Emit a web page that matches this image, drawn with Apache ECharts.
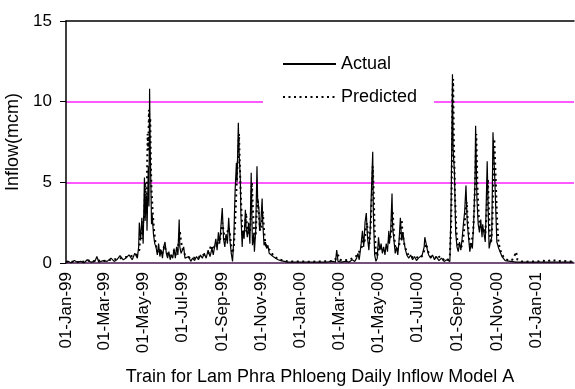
<!DOCTYPE html>
<html>
<head>
<meta charset="utf-8">
<script src="https://cdn.jsdelivr.net/npm/echarts@6/dist/echarts.min.js"></script>
<style>
  html, body { margin: 0; padding: 0; background: #ffffff; }
  #chart { width: 575px; height: 389px; }
</style>
</head>
<body>
<div id="chart"></div>
<script>
// Daily inflow (million cubic metres), Lam Phra Phloeng reservoir, training period.
// Each entry is [days since startDate, inflow].
const startDate = '1999-01-01';
const lastDay = 790;

const tickLabelDates = [
  '1999-01-01', '1999-03-01', '1999-05-01', '1999-07-01', '1999-09-01', '1999-11-01',
  '2000-01-01', '2000-03-01', '2000-05-01', '2000-07-01', '2000-09-01', '2000-11-01',
  '2001-01-01'
];
const monthNames = ['Jan','Feb','Mar','Apr','May','Jun','Jul','Aug','Sep','Oct','Nov','Dec'];

const actualFlow = [
  [0,0.05],[4,0.1],[8,0.0],[13,0.15],[18,0.05],[23,0.1],[28,0.0],[33,0.2],[39,0.05],[45,0.1],
  [48,0.4],[51,0.05],[58,0.15],[64,0.1],[70,0.3],[75,0.1],[79,0.2],[84,0.45],[89,0.2],[93,0.3],
  [98,0.5],[103,0.2],[107,0.6],[111,0.3],[113,1.0],
  [114,2.5],[116,1.4],[118,2.8],[120,1.2],[122,5.3],[123,2.6],[125,4.2],[126,2.0],[128,6.0],
  [129,3.5],[130,10.8],[131,7.0],[132,4.8],[133,2.4],[134,3.0],[136,1.8],[138,1.2],[140,1.0],
  [142,0.5],[144,1.2],[146,0.4],[148,0.8],[150,0.3],[152,1.0],[154,1.3],[156,0.6],[158,0.3],
  [160,0.7],[162,0.2],[164,0.5],[166,0.3],[168,0.9],[170,0.3],[172,1.0],[174,0.5],[176,2.7],
  [177,1.0],[179,0.6],[181,0.5],[183,1.0],[185,0.3],
  [188,0.2],[191,0.4],[194,0.1],[197,0.3],[200,0.15],[203,0.4],[206,0.2],[209,0.5],[212,0.3],
  [215,0.6],[218,0.3],[221,0.8],[224,0.4],[227,0.9],[229,0.5],[231,1.0],
  [233,1.5],[235,0.8],[237,1.9],[239,1.2],[241,2.3],[243,3.4],[245,1.5],[247,1.0],[249,1.8],
  [251,1.2],[253,2.8],[255,1.4],[257,0.6],[259,0.1],[261,1.5],[262,3.1],
  [263,4.5],[265,6.2],[266,5.0],[268,8.7],[269,7.0],[271,5.3],[272,3.0],[274,1.0],
  [275,2.0],[277,1.5],[279,3.3],[280,2.2],[282,1.6],[284,2.5],[286,1.2],[288,5.6],[289,3.0],
  [290,1.1],[292,1.8],[293,0.7],[295,2.0],[297,6.0],[298,4.0],[300,3.3],[301,2.0],[303,2.5],
  [305,4.0],[306,2.5],[308,1.1],[310,1.3],[312,0.9],[314,1.1],[316,0.6],[319,0.7],[322,0.4],
  [326,0.3],[330,0.2],[334,0.15],[337,0.05],
  [345,0.05],[360,0.05],[375,0.05],[390,0.05],[405,0.05],[415,0.1],[419,0.05],[421,0.8],
  [423,0.1],[428,0.05],[435,0.1],[440,0.05],[445,0.2],[449,0.1],
  [452,0.3],[454,0.6],[456,0.2],[459,1.2],[461,2.0],[463,1.0],[465,2.5],[467,3.1],[469,1.5],
  [471,0.8],[473,2.0],[475,4.5],[477,6.9],[478,3.0],[480,0.5],[482,0.1],[484,0.3],
  [486,1.6],[488,0.8],[490,1.2],[492,0.6],[494,1.0],[496,0.5],[498,1.2],[500,0.7],[502,2.0],
  [503,1.2],[505,2.0],[507,4.3],[508,2.2],[510,1.4],[512,0.6],[514,1.0],[516,0.5],[518,1.4],
  [520,2.8],[522,1.4],[524,1.9],[526,1.2],[528,0.8],[530,0.5],[533,0.3],[536,0.5],[539,0.2],
  [542,0.4],[545,0.15],[548,0.3],[551,0.2],[554,0.5],[557,1.0],[558,1.6],[560,1.2],[562,0.8],
  [564,0.5],[567,0.3],[570,0.5],[573,0.2],[576,0.4],[580,0.15],[584,0.3],[588,0.1],[592,0.2],
  [595,0.1],
  [597,0.1],[599,3.9],[601,11.7],[602,7.0],[604,5.7],[606,1.9],[608,1.0],[610,0.7],[612,1.3],
  [614,0.8],[616,1.5],[618,2.4],[620,3.2],[622,4.8],[624,2.5],[626,1.6],[628,0.7],[630,1.2],
  [632,0.9],[634,2.5],[636,5.0],[637,8.5],[639,4.0],[641,2.4],[643,1.9],[645,2.7],[647,1.6],
  [648,2.4],[650,1.8],[652,1.3],[653,2.8],[655,6.3],[657,2.5],[658,0.9],[660,1.3],[662,1.6],
  [663,4.5],[664,8.1],[666,6.0],[667,5.0],[669,2.5],[670,1.3],[673,0.9],[675,0.7],[678,0.4],
  [680,0.3],[683,0.15],[685,0.05],
  [700,0.05],[720,0.05],[740,0.05],[760,0.05],[789,0.05]
];

const predictedFlow = [
  [0,0.1],[6,0.05],[12,0.1],[20,0.05],[28,0.1],[35,0.15],[42,0.1],[48,0.2],[55,0.1],[62,0.15],
  [70,0.2],[78,0.25],[85,0.3],[92,0.35],[98,0.4],[104,0.45],[110,0.5],[114,0.8],[116,2.0],
  [118,1.5],[120,2.5],[122,3.0],[123,5.0],[125,3.5],[126,5.5],[127,8.0],[128,7.0],[129,9.5],
  [130,8.5],[131,9.0],[132,6.0],[133,4.5],[135,3.0],[137,2.0],[139,1.3],[141,0.8],[143,0.9],
  [145,0.6],[147,0.9],[149,0.5],[151,0.8],[153,1.1],[155,0.8],[157,0.9],[159,0.5],[161,0.6],
  [163,0.4],[165,0.6],[167,0.5],[169,0.8],[171,0.5],[173,0.7],[175,1.2],[177,2.0],[179,1.3],
  [181,0.9],[183,0.7],[185,0.5],[189,0.4],[193,0.3],[197,0.35],[201,0.3],[205,0.4],[209,0.35],
  [213,0.5],[217,0.5],[221,0.6],[224,0.7],[226,1.1],[228,0.8],[231,0.9],[233,1.2],[235,1.0],
  [237,1.5],[239,1.3],[241,1.8],[243,2.5],[245,2.0],[247,1.4],[249,1.6],[251,1.5],[253,2.2],
  [255,1.8],[257,1.0],[259,0.6],[261,1.0],[263,2.5],[265,4.5],[266,5.5],[268,7.0],[269,8.0],
  [270,6.5],[272,4.0],[274,2.2],[276,1.8],[278,2.0],[280,3.1],[282,2.0],[284,2.1],[286,1.8],
  [288,3.5],[289,5.0],[291,3.0],[293,1.5],[295,1.8],[297,3.5],[298,4.0],[300,3.0],[302,2.0],
  [304,2.2],[306,3.2],[308,2.0],[310,1.2],[312,1.0],[314,0.9],[317,0.8],[320,0.6],[324,0.4],
  [328,0.3],[333,0.2],[338,0.15],[345,0.1],[360,0.1],[380,0.08],[400,0.1],[415,0.12],[421,0.3],
  [423,0.5],[426,0.2],[432,0.15],[440,0.2],[446,0.3],[450,0.4],[454,0.5],[457,0.8],[460,1.0],
  [462,1.5],[464,1.2],[466,2.0],[468,2.5],[470,1.6],[472,1.2],[474,2.5],[476,4.5],[477,6.0],
  [478,5.0],[480,2.0],[482,0.6],[484,0.4],[486,1.0],[488,1.1],[490,0.9],[492,0.8],[494,0.9],
  [496,0.7],[498,0.9],[500,0.8],[502,1.3],[504,1.5],[506,1.8],[507,3.0],[508,3.2],[510,1.8],
  [512,1.0],[514,0.8],[516,0.7],[518,1.0],[520,2.0],[522,2.7],[523,2.0],[525,1.4],[527,1.0],
  [529,0.8],[531,0.6],[534,0.4],[537,0.5],[540,0.35],[544,0.4],[548,0.3],[552,0.35],[555,0.5],
  [558,0.9],[560,1.2],[562,0.9],[564,0.6],[567,0.4],[570,0.5],[574,0.3],[578,0.5],[582,0.3],
  [586,0.2],[590,0.3],[594,0.2],[597,0.5],[599,2.5],[600,5.7],[601,10.5],[602,11.4],[603,8.0],
  [605,4.0],[607,2.0],[609,1.2],[611,1.0],[613,1.1],[615,1.0],[617,1.3],[619,2.0],[621,3.0],
  [623,3.8],[625,2.5],[627,1.5],[629,1.0],[631,0.9],[633,1.8],[635,3.5],[637,6.0],[638,8.0],
  [640,4.5],[642,2.8],[644,2.2],[646,2.3],[648,2.0],[650,2.2],[652,1.8],[654,3.0],[656,5.2],
  [657,4.0],[659,1.8],[661,1.2],[663,2.5],[665,6.0],[666,7.7],[668,5.5],[670,3.0],[672,1.5],
  [674,1.0],[677,0.6],[680,0.4],[684,0.25],[688,0.15],[694,0.2],[698,0.5],[700,0.7],[702,0.2],
  [708,0.1],[716,0.08],[724,0.1],[732,0.08],[740,0.15],[748,0.1],[756,0.2],[764,0.1],[772,0.15],
  [780,0.1],[789,0.1]
];

const DAY_MS = 86400000;
const t0 = Date.parse(startDate + 'T00:00:00Z');
// Day offsets of the labelled dates along the day-number axis.
const labelDays = tickLabelDates.map(s => Math.round((Date.parse(s + 'T00:00:00Z') - t0) / DAY_MS));

function fmtDay(day) {
  const dt = new Date(t0 + Math.round(day) * DAY_MS);
  const dd = String(dt.getUTCDate()).padStart(2, '0');
  const yy = String(dt.getUTCFullYear() % 100).padStart(2, '0');
  return dd + '-' + monthNames[dt.getUTCMonth()] + '-' + yy;
}

const FONT = '"Liberation Sans", Arial, sans-serif';
const MAGENTA = '#ff22ff';
// Point markers are never drawn; keeping them transparent also keeps the legend samples as bare lines.
const hiddenMarker = { color: 'transparent', borderColor: 'transparent', borderWidth: 0 };
const chart = echarts.init(document.getElementById('chart'), null, { renderer: 'canvas' });

chart.setOption({
  animation: false,
  backgroundColor: '#ffffff',
  textStyle: { fontFamily: FONT, color: '#000' },
  grid: { left: 66, right: 1, top: 21, bottom: 126, containLabel: false, outerBoundsMode: 'none' },
  legend: {
    orient: 'vertical',
    left: 263,
    top: 45,
    padding: [10, 17, 6, 19],
    backgroundColor: '#ffffff',
    itemWidth: 53,
    itemHeight: 18,
    itemGap: 15,
    textStyle: { fontFamily: FONT, fontSize: 18, color: '#000' },
    data: ['Actual', 'Predicted']
  },
  xAxis: [{
    type: 'value',
    min: 0,
    max: lastDay,
    name: 'Train for Lam Phra Phloeng Daily Inflow Model A',
    nameLocation: 'middle',
    nameGap: 105,
    nameTextStyle: { fontFamily: FONT, fontSize: 18, color: '#000' },
    axisLine: { show: true, onZero: false, lineStyle: { color: '#4a1850', width: 1.5 } },
    axisTick: { show: false },
    splitLine: { show: false },
    axisLabel: {
      customValues: labelDays,
      rotate: 90,
      margin: 9,
      fontFamily: FONT,
      fontSize: 17,
      color: '#000',
      formatter: v => fmtDay(v)
    }
  }, {
    type: 'value',
    position: 'top',
    min: 0,
    max: lastDay,
    axisLine: { show: true, onZero: false, lineStyle: { color: '#000', width: 1.5 } },
    axisTick: { show: false },
    axisLabel: { show: false },
    splitLine: { show: false }
  }],
  yAxis: {
    type: 'value',
    min: 0,
    max: 15,
    interval: 5,
    name: 'Inflow(mcm)',
    nameLocation: 'middle',
    nameGap: 39,
    nameTextStyle: { fontFamily: FONT, fontSize: 18, color: '#000' },
    axisLine: { show: true, lineStyle: { color: '#000', width: 1.5 } },
    axisTick: { show: true, inside: false, length: 6, lineStyle: { color: '#000' } },
    axisLabel: { margin: 14, fontFamily: FONT, fontSize: 17, color: '#000' },
    splitLine: {
      show: true,
      showMinLine: false,
      showMaxLine: false,
      lineStyle: { color: MAGENTA, width: 1.6, opacity: 1 }
    }
  },
  series: [{
    name: 'Actual',
    type: 'line',
    data: actualFlow,
    symbol: 'rect',
    showSymbol: false,
    lineStyle: { color: '#000', width: 1.2, type: 'solid' },
    itemStyle: hiddenMarker,
    z: 3
  }, {
    name: 'Predicted',
    type: 'line',
    data: predictedFlow,
    symbol: 'rect',
    showSymbol: false,
    lineStyle: { color: '#000', width: 2, type: [2, 3.5], cap: 'butt' },
    itemStyle: hiddenMarker,
    z: 2
  }]
});
</script>
</body>
</html>
